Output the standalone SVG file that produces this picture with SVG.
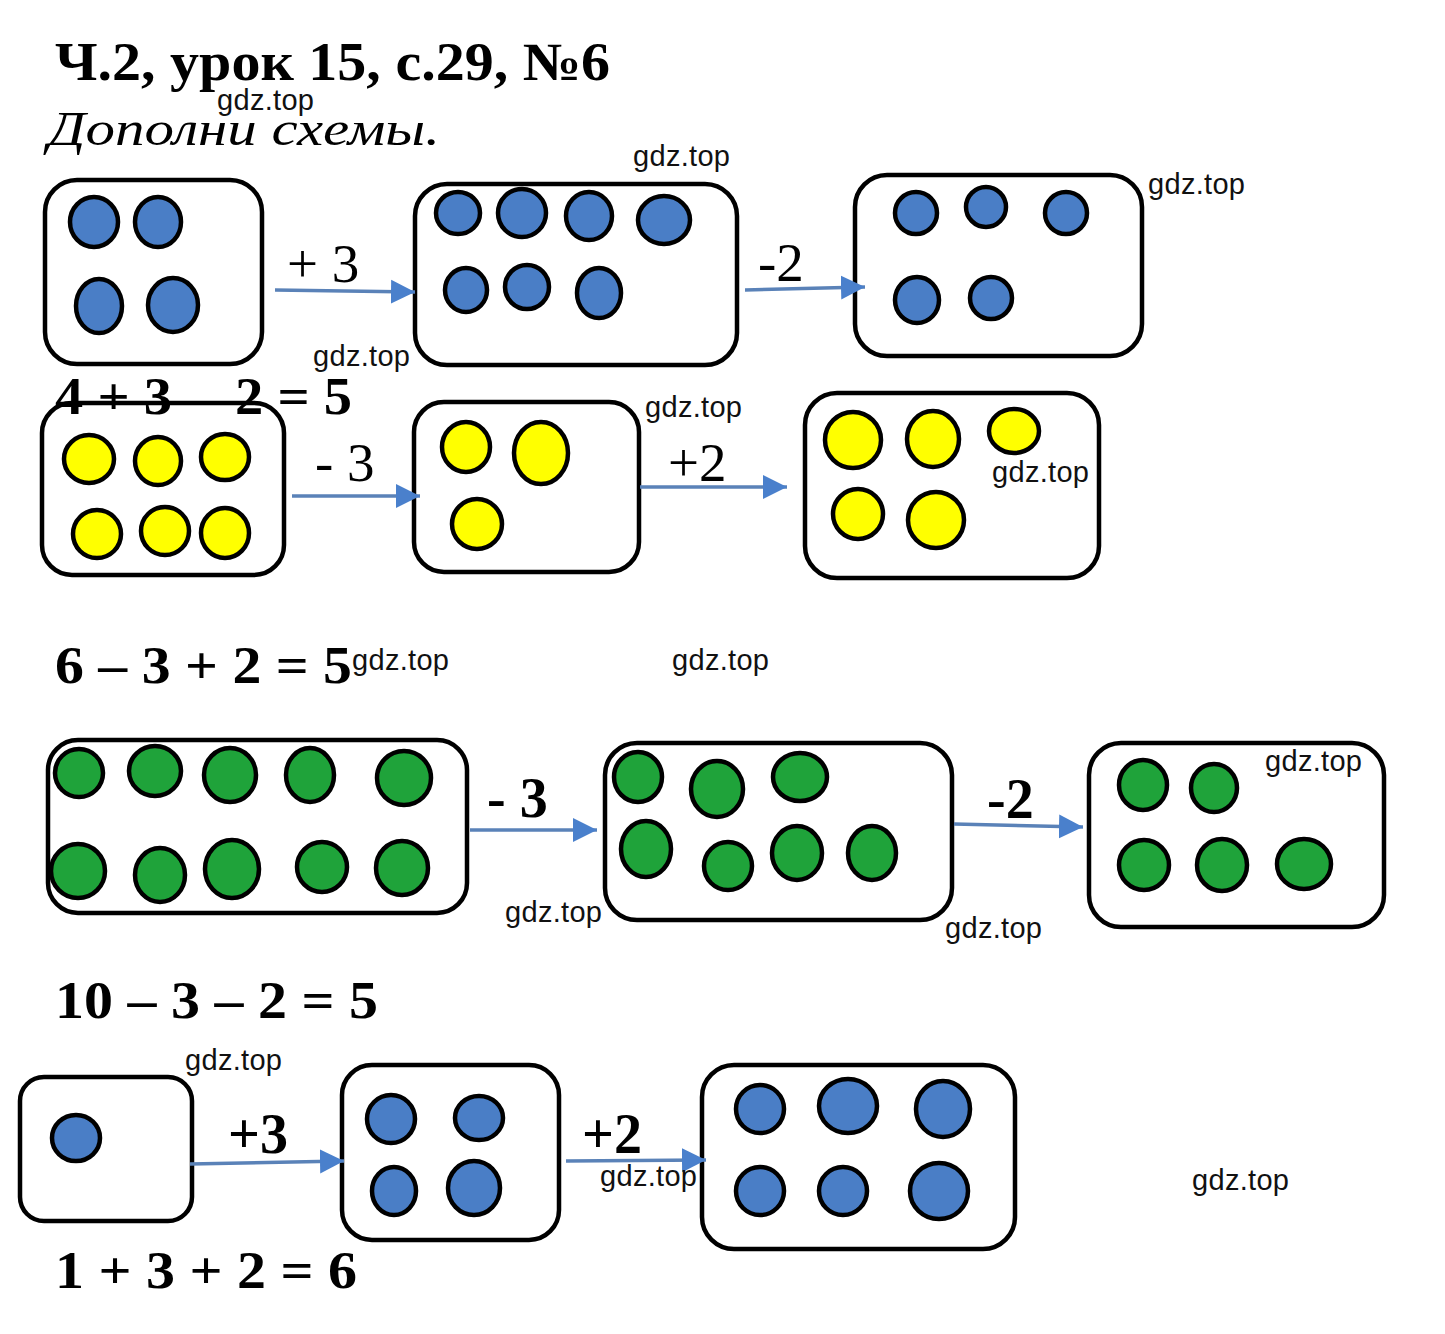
<svg xmlns="http://www.w3.org/2000/svg" width="1445" height="1334" viewBox="0 0 1445 1334">
<defs>
<style>
.box{fill:none;stroke:#000;stroke-width:4.5}
.b{fill:#4a7ec6;stroke:#000;stroke-width:4.5}
.y{fill:#ffff00;stroke:#000;stroke-width:4.5}
.g{fill:#1fa33a;stroke:#000;stroke-width:4.5}
.wm{font-family:"Liberation Sans",Arial,sans-serif;font-size:29px;fill:#111}
.eq{font-family:"Liberation Serif","Times New Roman",serif;font-weight:bold;font-size:53px;fill:#000}
.lr{font-family:"Liberation Serif","Times New Roman",serif;font-size:55px;fill:#000}
.lb{font-family:"Liberation Serif","Times New Roman",serif;font-weight:bold;font-size:56px;fill:#000}
.conn line{stroke:#5a82b8;stroke-width:3.5;marker-end:url(#ah)}
</style>
<marker id="ah" markerUnits="userSpaceOnUse" markerWidth="26" markerHeight="28" refX="24" refY="14" orient="auto">
<path d="M0,2 L24,14 L0,26 Z" fill="#4a80cc"/>
</marker>
</defs>
<rect width="1445" height="1334" fill="#fff"/>

<text x="55" y="80" font-family="Liberation Serif,'Times New Roman',serif" font-weight="bold" font-size="54" textLength="555" lengthAdjust="spacingAndGlyphs">Ч.2, урок 15, с.29, №6</text>
<text x="48" y="145" font-family="Liberation Serif,'Times New Roman',serif" font-style="italic" font-size="48" textLength="392" lengthAdjust="spacingAndGlyphs">Дополни схемы.</text>

<!-- equation 1 (its minus sign lies under the border of the next box) -->
<g id="eq1">
<text class="eq" x="55" y="414" textLength="117" lengthAdjust="spacingAndGlyphs">4 + 3</text>
<text class="eq" x="190" y="416">–</text>
<text class="eq" x="235" y="414" textLength="117" lengthAdjust="spacingAndGlyphs">2 = 5</text>
</g>

<!-- Row 1 -->
<g id="box-a">
<rect class="box" x="45" y="180" width="217" height="184" rx="32"/>
<ellipse class="b" cx="94" cy="222" rx="24" ry="25"/>
<ellipse class="b" cx="158" cy="222" rx="23" ry="25"/>
<ellipse class="b" cx="99" cy="306" rx="23" ry="27"/>
<ellipse class="b" cx="173" cy="305" rx="25" ry="27"/>
</g>
<g id="box-b">
<rect class="box" x="415" y="184" width="322" height="181" rx="32"/>
<ellipse class="b" cx="458" cy="213" rx="22" ry="21"/>
<ellipse class="b" cx="522" cy="213" rx="24" ry="24"/>
<ellipse class="b" cx="589" cy="216" rx="23" ry="24"/>
<ellipse class="b" cx="664" cy="220" rx="26" ry="24"/>
<ellipse class="b" cx="466" cy="290" rx="21" ry="22"/>
<ellipse class="b" cx="527" cy="287" rx="22" ry="22"/>
<ellipse class="b" cx="599" cy="293" rx="22" ry="25"/>
</g>
<g id="box-c">
<rect class="box" x="855" y="175" width="287" height="181" rx="32"/>
<ellipse class="b" cx="916" cy="213" rx="21" ry="21"/>
<ellipse class="b" cx="986" cy="207" rx="20" ry="20"/>
<ellipse class="b" cx="1066" cy="213" rx="21" ry="21"/>
<ellipse class="b" cx="917" cy="300" rx="22" ry="23"/>
<ellipse class="b" cx="991" cy="298" rx="21" ry="21"/>
</g>

<!-- Row 2 -->
<g id="box-d">
<rect class="box" x="42" y="403" width="242" height="172" rx="30"/>
<ellipse class="y" cx="89" cy="459" rx="25" ry="24"/>
<ellipse class="y" cx="158" cy="461" rx="23" ry="24"/>
<ellipse class="y" cx="225" cy="457" rx="24" ry="23"/>
<ellipse class="y" cx="97" cy="534" rx="24" ry="24"/>
<ellipse class="y" cx="165" cy="531" rx="24" ry="24"/>
<ellipse class="y" cx="225" cy="533" rx="24" ry="25"/>
</g>
<g id="box-e">
<rect class="box" x="414" y="402" width="225" height="170" rx="30"/>
<ellipse class="y" cx="466" cy="447" rx="24" ry="25"/>
<ellipse class="y" cx="541" cy="453" rx="27" ry="31"/>
<ellipse class="y" cx="477" cy="524" rx="25" ry="25"/>
</g>
<g id="box-f">
<rect class="box" x="805" y="393" width="294" height="185" rx="32"/>
<ellipse class="y" cx="853" cy="440" rx="28" ry="28"/>
<ellipse class="y" cx="933" cy="439" rx="26" ry="28"/>
<ellipse class="y" cx="1014" cy="431" rx="25" ry="22"/>
<ellipse class="y" cx="858" cy="514" rx="25" ry="25"/>
<ellipse class="y" cx="936" cy="520" rx="28" ry="28"/>
</g>
<text class="eq" x="55" y="683" textLength="297" lengthAdjust="spacingAndGlyphs">6 – 3 + 2 = 5</text>

<!-- Row 3 -->
<g id="box-g">
<rect class="box" x="48" y="740" width="419" height="173" rx="30"/>
<ellipse class="g" cx="79" cy="773" rx="24" ry="24"/>
<ellipse class="g" cx="155" cy="771" rx="26" ry="25"/>
<ellipse class="g" cx="230" cy="775" rx="26" ry="27"/>
<ellipse class="g" cx="310" cy="775" rx="24" ry="27"/>
<ellipse class="g" cx="404" cy="778" rx="27" ry="27"/>
<ellipse class="g" cx="78" cy="871" rx="27" ry="27"/>
<ellipse class="g" cx="160" cy="875" rx="25" ry="27"/>
<ellipse class="g" cx="232" cy="869" rx="27" ry="29"/>
<ellipse class="g" cx="322" cy="867" rx="25" ry="25"/>
<ellipse class="g" cx="402" cy="868" rx="26" ry="27"/>
</g>
<g id="box-h">
<rect class="box" x="605" y="743" width="347" height="177" rx="32"/>
<ellipse class="g" cx="638" cy="777" rx="24" ry="25"/>
<ellipse class="g" cx="717" cy="789" rx="26" ry="28"/>
<ellipse class="g" cx="800" cy="777" rx="27" ry="24"/>
<ellipse class="g" cx="646" cy="849" rx="25" ry="28"/>
<ellipse class="g" cx="728" cy="866" rx="24" ry="24"/>
<ellipse class="g" cx="797" cy="853" rx="25" ry="27"/>
<ellipse class="g" cx="872" cy="853" rx="24" ry="27"/>
</g>
<g id="box-i">
<rect class="box" x="1089" y="743" width="295" height="184" rx="32"/>
<ellipse class="g" cx="1143" cy="785" rx="24" ry="25"/>
<ellipse class="g" cx="1214" cy="788" rx="23" ry="24"/>
<ellipse class="g" cx="1144" cy="865" rx="25" ry="25"/>
<ellipse class="g" cx="1222" cy="865" rx="25" ry="26"/>
<ellipse class="g" cx="1304" cy="864" rx="27" ry="25"/>
</g>
<text class="eq" x="55" y="1018" textLength="323" lengthAdjust="spacingAndGlyphs">10 – 3 – 2 = 5</text>

<!-- Row 4 -->
<g id="box-j">
<rect class="box" x="20" y="1077" width="172" height="144" rx="24"/>
<ellipse class="b" cx="76" cy="1138" rx="24" ry="23"/>
</g>
<g id="box-k">
<rect class="box" x="342" y="1065" width="217" height="175" rx="30"/>
<ellipse class="b" cx="391" cy="1119" rx="24" ry="24"/>
<ellipse class="b" cx="479" cy="1118" rx="24" ry="22"/>
<ellipse class="b" cx="394" cy="1191" rx="22" ry="24"/>
<ellipse class="b" cx="474" cy="1188" rx="26" ry="27"/>
</g>
<g id="box-l">
<rect class="box" x="702" y="1065" width="313" height="184" rx="32"/>
<ellipse class="b" cx="760" cy="1109" rx="24" ry="24"/>
<ellipse class="b" cx="848" cy="1106" rx="29" ry="27"/>
<ellipse class="b" cx="943" cy="1109" rx="27" ry="28"/>
<ellipse class="b" cx="760" cy="1191" rx="24" ry="24"/>
<ellipse class="b" cx="843" cy="1191" rx="24" ry="24"/>
<ellipse class="b" cx="939" cy="1191" rx="29" ry="28"/>
</g>
<text class="eq" x="55" y="1288" textLength="302" lengthAdjust="spacingAndGlyphs">1 + 3 + 2 = 6</text>

<!-- connectors -->
<g id="connectors" class="conn">
<line x1="275" y1="290" x2="415" y2="292"/>
<line x1="745" y1="290" x2="865" y2="287"/>
<line x1="292" y1="496" x2="420" y2="496"/>
<line x1="640" y1="487" x2="787" y2="487"/>
<line x1="470" y1="830" x2="597" y2="830"/>
<line x1="954" y1="824" x2="1083" y2="827"/>
<line x1="190" y1="1164" x2="344" y2="1161"/>
<line x1="566" y1="1161" x2="706" y2="1160"/>
</g>
<g id="labels">
<text class="lr" x="287" y="282">+ 3</text>
<text class="lr" x="758" y="281">-2</text>
<text class="lr" x="315" y="481">- 3</text>
<text class="lr" x="668" y="481">+2</text>
<text class="lb" x="487" y="817">- 3</text>
<text class="lb" x="987" y="818">-2</text>
<text class="lb" x="228" y="1153">+3</text>
<text class="lb" x="582" y="1153">+2</text>
</g>

<g id="watermarks">
<text class="wm" x="217" y="110" textLength="97">gdz.top</text>
<text class="wm" x="633" y="166" textLength="97">gdz.top</text>
<text class="wm" x="1148" y="194" textLength="97">gdz.top</text>
<text class="wm" x="313" y="366" textLength="97">gdz.top</text>
<text class="wm" x="645" y="417" textLength="97">gdz.top</text>
<text class="wm" x="992" y="482" textLength="97">gdz.top</text>
<text class="wm" x="352" y="670" textLength="97">gdz.top</text>
<text class="wm" x="672" y="670" textLength="97">gdz.top</text>
<text class="wm" x="1265" y="771" textLength="97">gdz.top</text>
<text class="wm" x="505" y="922" textLength="97">gdz.top</text>
<text class="wm" x="945" y="938" textLength="97">gdz.top</text>
<text class="wm" x="185" y="1070" textLength="97">gdz.top</text>
<text class="wm" x="600" y="1186" textLength="97">gdz.top</text>
<text class="wm" x="1192" y="1190" textLength="97">gdz.top</text>
</g>
</svg>
